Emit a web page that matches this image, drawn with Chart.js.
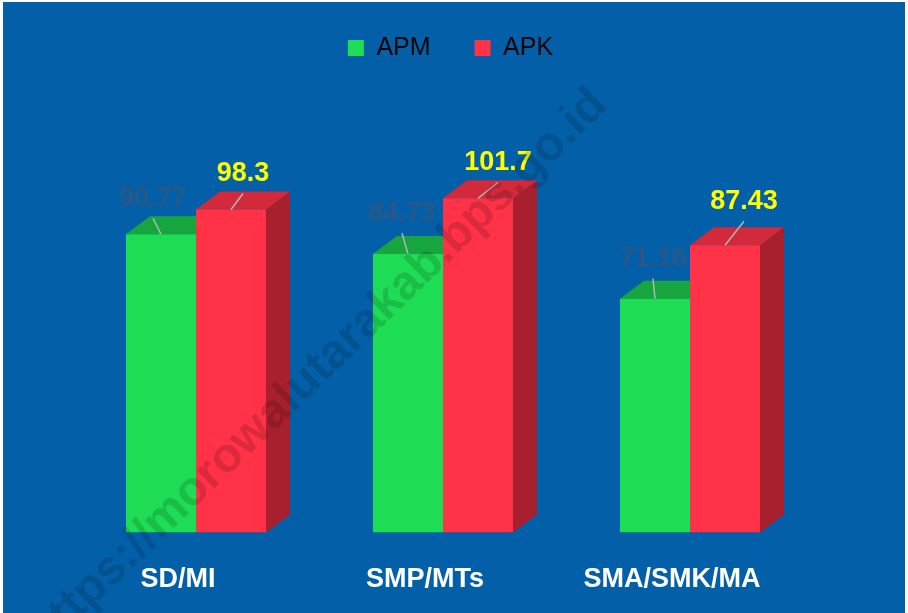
<!DOCTYPE html>
<html><head><meta charset="utf-8">
<script src="https://cdn.jsdelivr.net/npm/chart.js@4"></script>
<style>
html,body{margin:0;padding:0;background:#fff;}
#wrap{position:absolute;left:3px;top:2px;width:902px;height:611px;background:#0360A8;}
</style></head><body>
<div id="wrap"><canvas id="c"></canvas></div>
<script>
// ---- data ----
const categories = ['SD/MI', 'SMP/MTs', 'SMA/SMK/MA'];
const seriesNames = ['APM', 'APK'];
const apmValues = [90.77, 84.73, 71.16];
const apkValues = [98.3, 101.7, 87.43];

// ---- style ----
const FONT = '"Liberation Sans", Arial, sans-serif';
const frontColors = ['#1EDC53', '#FF3247'];
const faceColors = [{top: '#17A63D', side: '#12902F'}, {top: '#D2293B', side: '#A8202E'}];
const labelColors = ['rgb(40,88,135)', '#FFFF00'];
const DEPTH_X = 24, DEPTH_Y = 18;
// label placement relative to the top-centre of each bar front (leader-line style)
const labelOffsets = [[[-8, -36], [-6, -41], [-2, -40]], [[12, -36], [20, -36], [19, -44]]];

function drawFaces(chart, index) {
  const ctx = chart.ctx;
  const meta = chart.getDatasetMeta(index);
  const fc = faceColors[index];
  ctx.save();
  meta.data.forEach(el => {
    const l = el.x - el.width / 2, r = el.x + el.width / 2, t = el.y, b = el.base;
    ctx.fillStyle = fc.side;
    ctx.beginPath();
    ctx.moveTo(r, t); ctx.lineTo(r + DEPTH_X, t - DEPTH_Y);
    ctx.lineTo(r + DEPTH_X, b - DEPTH_Y); ctx.lineTo(r, b); ctx.closePath(); ctx.fill();
    ctx.fillStyle = fc.top;
    ctx.beginPath();
    ctx.moveTo(l, t); ctx.lineTo(l + DEPTH_X, t - DEPTH_Y);
    ctx.lineTo(r + DEPTH_X, t - DEPTH_Y); ctx.lineTo(r, t); ctx.closePath(); ctx.fill();
  });
  ctx.restore();
}

function drawLabels(chart, index) {
  const ctx = chart.ctx;
  const meta = chart.getDatasetMeta(index);
  const ds = chart.data.datasets[index];
  ctx.save();
  meta.data.forEach((el, i) => {
    const [dx, dy] = labelOffsets[index][i];
    ctx.strokeStyle = '#B4B4B4';
    ctx.lineWidth = 1.5;
    ctx.beginPath();
    ctx.moveTo(el.x, el.y);
    ctx.lineTo(el.x + dx, el.y + dy + 20);
    ctx.stroke();
    ctx.fillStyle = labelColors[index];
    ctx.font = 'bold 27px ' + FONT;
    ctx.textAlign = 'center';
    ctx.textBaseline = 'middle';
    ctx.fillText(String(ds.data[i]), el.x + dx, el.y + dy);
  });
  ctx.restore();
}

const bar3d = {
  id: 'bar3d',
  afterLayout(chart) {
    if (chart.legend) { chart.legend.left += 7.5; chart.legend.right += 7.5; }
  },
  beforeDatasetsDraw(chart) {
    drawFaces(chart, 0);
    drawFaces(chart, 1);
    drawLabels(chart, 0);
  },
  afterDatasetsDraw(chart) {
    drawLabels(chart, 1);
  },
  afterDraw(chart) {
    const ctx = chart.ctx;
    ctx.save();
    ctx.translate(315, 368);
    ctx.rotate(-44 * Math.PI / 180);
    ctx.font = 'bold 48px ' + FONT;
    ctx.fillStyle = 'rgba(0,0,0,0.14)';
    ctx.textAlign = 'center';
    ctx.textBaseline = 'middle';
    ctx.fillText('https://morowalutarakab.bps.go.id', 0, 0);
    ctx.restore();
  }
};

new Chart(document.getElementById('c'), {
  type: 'bar',
  data: {
    labels: categories,
    datasets: [
      {label: seriesNames[0], data: apmValues, backgroundColor: frontColors[0], borderWidth: 0},
      {label: seriesNames[1], data: apkValues, backgroundColor: frontColors[1], borderWidth: 0}
    ]
  },
  options: {
    responsive: true,
    maintainAspectRatio: false,
    animation: false,
    layout: {padding: {left: 69.5, right: 91.5, top: -10.5, bottom: -14}},
    datasets: {bar: {barPercentage: 1, categoryPercentage: 0.5668}},
    plugins: {
      tooltip: {enabled: false},
      legend: {
        display: true,
        position: 'top',
        labels: {
          color: '#050505',
          font: {family: FONT, size: 25},
          boxWidth: 16, boxHeight: 16,
          padding: 44
        }
      }
    },
    scales: {
      x: {
        grid: {display: false, drawTicks: false},
        border: {display: false},
        ticks: {color: '#FFFFFF', font: {family: FONT, size: 27, weight: 'bold'}, padding: 31, labelOffset: -18}
      },
      y: {display: false, min: 0, max: 140.6}
    }
  },
  plugins: [bar3d]
});
</script>
</body></html>
